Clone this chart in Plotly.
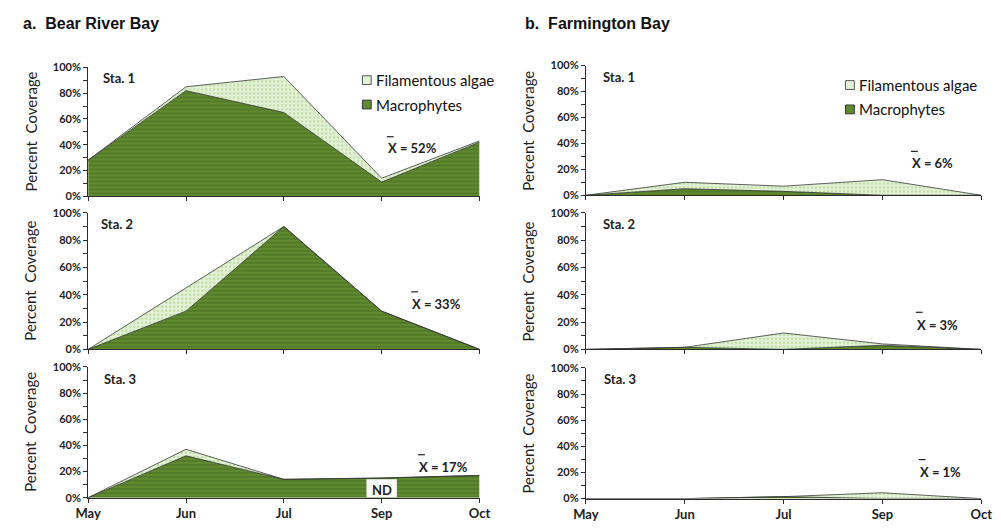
import plotly.graph_objects as go

W, H = 1001, 529

months = ["May", "Jun", "Jul", "Sep", "Oct"]

# Bear River Bay (left column)
brb_macro_s1 = [28, 82, 65, 11, 42]
brb_algae_s1 = [0, 3, 28, 3, 1]
brb_macro_s2 = [0, 28, 90, 28, 0]
brb_algae_s2 = [0, 17, 0, 0, 0]
brb_macro_s3 = [0, 32, 14, 15, 17]
brb_algae_s3 = [0, 5, 0, 0, 0]

# Farmington Bay (right column)
fb_macro_s1 = [0, 5, 3, 0, 0]
fb_algae_s1 = [0, 5, 4, 12, 0]
fb_macro_s2 = [0, 1.5, 0, 3, 0]
fb_algae_s2 = [0, 0, 12, 1, 0]
fb_macro_s3 = [0, 0, 1.5, 0, 0]
fb_algae_s3 = [0, 0, 0, 4.5, 0]

station_labels = ["Sta. 1", "Sta. 2", "Sta. 3"]
means_left = ["52%", "33%", "17%"]
means_right = ["6%", "3%", "1%"]
titles = ["a.  Bear River Bay", "b.  Farmington Bay"]
y_ticks = [0, 20, 40, 60, 80, 100]

panels = [
    (brb_macro_s1, brb_algae_s1), (brb_macro_s2, brb_algae_s2), (brb_macro_s3, brb_algae_s3),
    (fb_macro_s1, fb_algae_s1), (fb_macro_s2, fb_algae_s2), (fb_macro_s3, fb_algae_s3),
]


def px(x):
    return x / W


def py(y):
    return 1 - y / H


# pixel geometry of panels: (x0, x1, ytop, ybottom)
geo = [
    (77, 478, 62, 194), (77, 478, 211, 351), (77, 478, 369, 503),
    (587, 992, 60, 193), (587, 992, 211, 351), (587, 992, 370, 504),
]

MACRO_BG = "#608a2f"
MACRO_FG = "#3e5e1b"
ALGAE_BG = "#e3f2d6"
ALGAE_FG = "#93c46e"
LINE = "#2b2b2b"
TXT = "#222222"

fig = go.Figure()
layout = dict(
    width=W, height=H, margin=dict(l=0, r=0, t=0, b=0),
    paper_bgcolor="white", plot_bgcolor="white", showlegend=False,
)

for i, (macro, algae) in enumerate(panels):
    n = "" if i == 0 else str(i + 1)
    xa, ya = "x" + n, "y" + n
    total = [m + a for m, a in zip(macro, algae)]
    fig.add_trace(go.Scatter(
        x=months, y=macro, xaxis=xa, yaxis=ya, mode="lines",
        line=dict(color=LINE, width=0.8), fill="tozeroy", fillcolor=MACRO_BG,
        fillpattern=dict(shape="-", bgcolor=MACRO_BG, fgcolor=MACRO_FG, size=4, solidity=0.35),
        hoverinfo="skip", name="Macrophytes"))
    fig.add_trace(go.Scatter(
        x=months, y=total, xaxis=xa, yaxis=ya, mode="lines",
        line=dict(color="#3a3a3a", width=0.8), fill="tonexty", fillcolor=ALGAE_BG,
        fillpattern=dict(shape=".", bgcolor=ALGAE_BG, fgcolor=ALGAE_FG, size=4, solidity=0.25),
        hoverinfo="skip", name="Filamentous algae"))
    x0, x1, yt, yb = geo[i]
    bottom = i in (2, 5)
    layout["xaxis" + n] = dict(
        domain=[px(x0), px(x1)], anchor=ya, type="category", categoryarray=months,
        range=[0, 4], showline=True, linecolor=LINE, linewidth=1, ticks="outside",
        ticklen=4, tickcolor=LINE, showgrid=False, zeroline=False,
        showticklabels=bottom, tickfont=dict(family="Lato", size=13, color=TXT, weight="bold"),
    )
    layout["yaxis" + n] = dict(
        domain=[py(yb), py(yt)], anchor=xa, range=[0, 100], tickvals=y_ticks,
        ticktext=[f"{v}%" for v in y_ticks], showline=True, linecolor=LINE, linewidth=1,
        ticks="outside", ticklen=4, tickcolor=LINE, showgrid=False, zeroline=False,
        minor=dict(tickvals=[10, 30, 50, 70, 90], ticks="outside", ticklen=4, tickcolor=LINE),
        tickfont=dict(family="Lato", size=11, color=TXT, weight="bold"),
    )

fig.update_layout(**layout)

annotations = []
shapes = []

# titles
annotations.append(dict(x=px(8), y=py(17), xref="paper", yref="paper", text=titles[0],
                        showarrow=False, xanchor="left", yanchor="middle",
                        font=dict(family="Liberation Sans", size=16, color="#111", weight="bold")))
annotations.append(dict(x=px(523), y=py(17), xref="paper", yref="paper", text=titles[1],
                        showarrow=False, xanchor="left", yanchor="middle",
                        font=dict(family="Liberation Sans", size=16, color="#111", weight="bold")))

# y-axis titles & station labels
sta_pos = [(90, 73), (88, 222), (91, 381), (602, 72), (602, 222), (603, 381)]
ytitle_x = [18, 18, 18, 528, 528, 528]
for i in range(6):
    x0, x1, yt, yb = geo[i]
    annotations.append(dict(x=px(ytitle_x[i]), y=py((yt + yb) / 2), xref="paper", yref="paper",
                            text="Percent  Coverage", textangle=-90, showarrow=False,
                            xanchor="center", yanchor="middle",
                            font=dict(family="Lato", size=15, color=TXT)))
    sx, sy = sta_pos[i]
    annotations.append(dict(x=px(sx), y=py(sy), xref="paper", yref="paper",
                            text=station_labels[i % 3], showarrow=False,
                            xanchor="left", yanchor="middle",
                            font=dict(family="Lato", size=13, color=TXT, weight="bold")))

# mean labels with overbar
mean_pos = [(382, 145, 133), (407, 304, 292), (414, 472, 459),
            (919, 160, 148), (924, 326, 313), (927, 477, 464)]
mean_txt = means_left + means_right
for i in range(6):
    mx, my, by = mean_pos[i]
    annotations.append(dict(x=px(mx), y=py(my), xref="paper", yref="paper",
                            text="X = " + mean_txt[i], showarrow=False,
                            xanchor="left", yanchor="middle",
                            font=dict(family="Lato", size=13, color=TXT, weight="bold")))
    shapes.append(dict(type="line", xref="paper", yref="paper",
                       x0=px(mx + 1), x1=px(mx + 8), y0=py(by), y1=py(by),
                       line=dict(color=TXT, width=1.2)))

# ND box on Bear River Bay Sta. 3
shapes.append(dict(type="rect", xref="x3", yref="y3", x0=2.845, x1=3.155, y0=0.3, y1=14,
                   fillcolor="white", line=dict(width=0), layer="above"))
annotations.append(dict(x=3, y=6, xref="x3", yref="y3", text="ND", showarrow=False,
                        xanchor="center", yanchor="middle",
                        font=dict(family="Lato", size=13, color=TXT, weight="bold")))

# legends (manual)
leg = [(358, 75, 100), (853, 80, 105)]
for lx, ly1, ly2 in leg:
    shapes.append(dict(type="rect", xref="paper", yref="paper",
                       x0=px(lx), x1=px(lx + 9), y0=py(ly1 - 4.5), y1=py(ly1 + 4.5),
                       fillcolor=ALGAE_BG, line=dict(color="#555", width=1)))
    shapes.append(dict(type="rect", xref="paper", yref="paper",
                       x0=px(lx), x1=px(lx + 9), y0=py(ly2 - 4.5), y1=py(ly2 + 4.5),
                       fillcolor=MACRO_BG, line=dict(color="#333", width=1)))
    annotations.append(dict(x=px(lx + 12), y=py(ly1), xref="paper", yref="paper",
                            text="Filamentous algae", showarrow=False,
                            xanchor="left", yanchor="middle",
                            font=dict(family="Lato", size=15, color="#111")))
    annotations.append(dict(x=px(lx + 12), y=py(ly2), xref="paper", yref="paper",
                            text="Macrophytes", showarrow=False,
                            xanchor="left", yanchor="middle",
                            font=dict(family="Lato", size=15, color="#111")))

fig.update_layout(annotations=annotations, shapes=shapes)
fig.write_html("out.html")
